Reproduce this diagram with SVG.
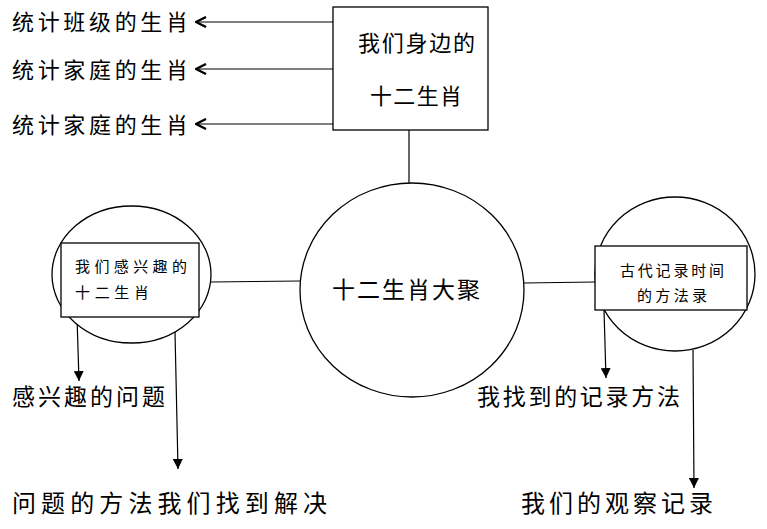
<svg xmlns="http://www.w3.org/2000/svg" width="767" height="529" viewBox="0 0 767 529">
<style>
text{font-family:"Noto Sans CJK SC","Noto Sans CJK JP",sans-serif;fill:#000}
.shape{fill:#fff;stroke:#000;stroke-width:1.3}
.ln{fill:none;stroke:#000;stroke-width:1.2}
.big{font-size:22px}
.xl{font-size:23px}
.xxl{font-size:24px}
.sm{font-size:15px}
</style>
<defs>
<marker id="chev" viewBox="0 0 12 12" refX="11" refY="6" markerWidth="12" markerHeight="12" markerUnits="userSpaceOnUse" orient="auto">
<path d="M1,1 L11,6 L1,11" fill="none" stroke="#000" stroke-width="2.4"/>
</marker>
<marker id="tri" viewBox="0 0 10 10" refX="10" refY="5" markerWidth="10" markerHeight="10" markerUnits="userSpaceOnUse" orient="auto">
<path d="M0,0 L10,5 L0,10 Z" fill="#000"/>
</marker>
</defs>
<rect width="767" height="529" fill="#fff"/>
<g id="connectors">
<line class="ln" x1="333" y1="22" x2="196" y2="22" marker-end="url(#chev)"/>
<line class="ln" x1="333" y1="69" x2="196" y2="69" marker-end="url(#chev)"/>
<line class="ln" x1="333" y1="124" x2="196" y2="124" marker-end="url(#chev)"/>
<line class="ln" x1="409" y1="130" x2="409" y2="184"/>
<line class="ln" x1="211" y1="282" x2="300" y2="281"/>
<line class="ln" x1="524" y1="283" x2="595" y2="282"/>
<line class="ln" x1="77" y1="317" x2="79" y2="381" marker-end="url(#tri)"/>
<line class="ln" x1="175" y1="332" x2="178" y2="469" marker-end="url(#tri)"/>
<line class="ln" x1="604" y1="310" x2="606" y2="378" marker-end="url(#tri)"/>
<line class="ln" x1="693" y1="350" x2="694" y2="488" marker-end="url(#tri)"/>
</g>
<g id="label-class">
<text class="big" x="12" y="30" textLength="176" lengthAdjust="spacing">统计班级的生肖</text>
</g>
<g id="label-family1">
<text class="big" x="12" y="78" textLength="176" lengthAdjust="spacing">统计家庭的生肖</text>
</g>
<g id="label-family2">
<text class="big" x="12" y="133" textLength="176" lengthAdjust="spacing">统计家庭的生肖</text>
</g>
<g id="node-top">
<rect class="shape" x="333" y="7" width="155" height="123"/>
<text class="big" x="358" y="51" textLength="117" lengthAdjust="spacing">我们身边的</text>
<text class="big" x="370" y="104" textLength="92" lengthAdjust="spacing">十二生肖</text>
</g>
<g id="node-center">
<ellipse class="shape" cx="412" cy="290" rx="112" ry="107"/>
<text class="xl" x="332" y="298" textLength="148" lengthAdjust="spacing">十二生肖大聚</text>
</g>
<g id="node-left">
<ellipse class="shape" cx="131.5" cy="274.5" rx="79.5" ry="68.5"/>
<rect class="shape" x="61" y="243" width="138" height="74"/>
<text class="sm" x="75" y="272" textLength="112" lengthAdjust="spacing">我们感兴趣的</text>
<text class="sm" x="75" y="298" textLength="74" lengthAdjust="spacing">十二生肖</text>
</g>
<g id="node-right">
<ellipse class="shape" cx="675" cy="274" rx="80" ry="77"/>
<rect class="shape" x="595" y="246" width="152" height="64"/>
<text class="sm" x="620" y="276" textLength="104" lengthAdjust="spacing">古代记录时间</text>
<text class="sm" x="637" y="301" textLength="70" lengthAdjust="spacing">的方法录</text>
</g>
<g id="label-interest">
<text class="xl" x="12" y="405" textLength="153" lengthAdjust="spacing">感兴趣的问题</text>
</g>
<g id="label-solve">
<text class="xxl" x="12" y="512" textLength="315" lengthAdjust="spacing">问题的方法我们找到解决</text>
</g>
<g id="label-found">
<text class="xl" x="477" y="405" textLength="203" lengthAdjust="spacing">我找到的记录方法</text>
</g>
<g id="label-observe">
<text class="xxl" x="521" y="512" textLength="192" lengthAdjust="spacing">我们的观察记录</text>
</g>
</svg>
